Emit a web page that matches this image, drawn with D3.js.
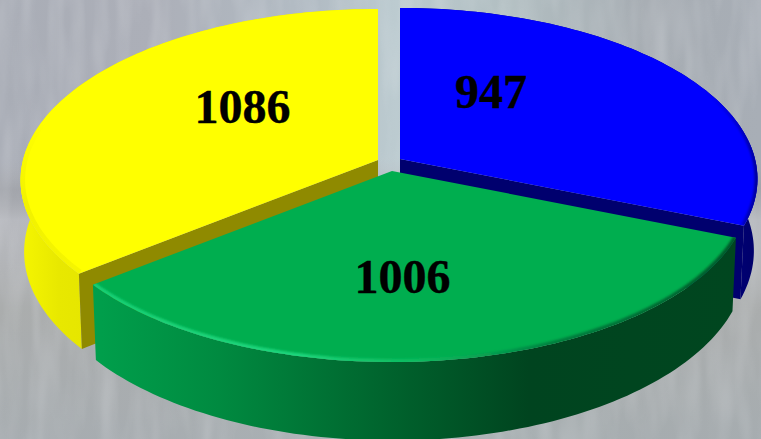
<!DOCTYPE html>
<html><head><meta charset="utf-8">
<script src="https://cdn.jsdelivr.net/npm/d3@7"></script>
<style>html,body{margin:0;padding:0;background:#aab}svg{display:block}</style></head>
<body><svg id="c" width="761" height="439"></svg>
<script>
// data
const names = ["blue","green","yellow"];
const values = [947,1006,1086];
const topColors = ["#0000ff","#00ae4f","#ffff00"];
const edgeColors = ["#00006e","#00441f","#8f8a00"];
// layout
const W=761,H=439;
const RX=355,RY=168.7,PERSP=0.117,DEPTH=71,BOTTOM_K=0.99;
const apex=[[400,159],[392,171],[378,160]];
const labelAt=[[491,107.5],[402.5,293],[242.5,122.5]];

const svg=d3.select("#c"),defs=svg.append("defs");
const color=d3.scaleOrdinal(names,topColors), edge=d3.scaleOrdinal(names,edgeColors);
const sx=d3.scaleLinear([-1,1],[-RX,RX]), sy=d3.scaleLinear([-1,1],[RY,-RY]);
const pie=d3.pie().sort(null)(values);
const line=d3.line();

function P(i,a,r,z){ // a clockwise from top, r radius fraction, z 0 top / 1 bottom
  const X=r*Math.sin(a),Y=r*Math.cos(a),w=1+PERSP*Y,k=z?BOTTOM_K:1;
  return [apex[i][0]+sx(X/w)*k, apex[i][1]+sy(Y/w)*k+(z?DEPTH/w:0)];
}
const arcPts=(i,a0,a1,z)=>d3.range(0,91).map(t=>P(i,a0+(a1-a0)*t/90,1,z));

// background
function grad(id,stops,attrs){
  const g=defs.append("linearGradient").attr("id",id).attr("gradientUnits","userSpaceOnUse");
  Object.entries(attrs).forEach(([k,v])=>g.attr(k,v));
  stops.forEach(s=>g.append("stop").attr("offset",s[0]).attr("stop-color",s[1]).attr("stop-opacity",s[2]===undefined?1:s[2]));
}
grad("bgH",[[0,"#a9adb6"],[.2,"#acafb8"],[.42,"#b2bcc4"],[.52,"#bccbd0"],[.66,"#b2bfc2"],[.85,"#a6acb2"],[1,"#a8aeb6"]],{x1:0,y1:0,x2:W,y2:0});
grad("bgV",[[0,"#aaa",0],[.36,"#aaa",0],[.43,"#8e8e8e",.3],[.5,"#c4c4c6",.5],[.7,"#abadab",.8],[1,"#a6acae",.75]],{x1:0,y1:0,x2:0,y2:H});
const f=defs.append("filter").attr("id","streak").attr("x",0).attr("y",0).attr("width","100%").attr("height","100%");
f.append("feTurbulence").attr("type","fractalNoise").attr("baseFrequency","0.06 0.012").attr("numOctaves",2).attr("seed",4);
f.append("feColorMatrix").attr("type","matrix").attr("values","0 0 0 0 0.85  0 0 0 0 0.87  0 0 0 0 0.9  0.9 0.9 0 0 -0.72");
svg.append("rect").attr("width",W).attr("height",H).attr("fill","url(#bgH)");
svg.append("rect").attr("width",W).attr("height",H).attr("fill","url(#bgV)");
svg.append("rect").attr("width",W).attr("height",H).attr("filter","url(#streak)").attr("opacity",.3);

// wall gradients
grad("wall0",[[0,"#00008a"],[1,"#000066"]],{x1:700,y1:0,x2:761,y2:0});
grad("wall1",[[0,"#00a04c"],[.2,"#008a40"],[.45,"#00652e"],[.68,"#00441f"],[1,"#00461f"]],{x1:90,y1:0,x2:735,y2:0});
grad("wall2",[[0,"#f6f600"],[.6,"#e8e800"],[1,"#e6e600"]],{x1:20,y1:0,x2:85,y2:0});
grad("rim0",[[0,"#0000ff",0],[.82,"#0000ff",0],[1,"#000090",.9]],{x1:400,y1:0,x2:757,y2:0});
grad("rim1",[[0,"#18cf74"],[.32,"#1ed67c"],[.5,"#14c268",.7],[.72,"#00733a",.8],[1,"#004f25",.9]],{x1:93,y1:0,x2:735,y2:0});
grad("rim2",[[0,"#f4f400",0],[.42,"#f4f400",0],[.7,"#f2f200",1],[1,"#f6f600",1]],{x1:0,y1:0,x2:0,y2:290});
defs.append("filter").attr("id","soft").append("feGaussianBlur").attr("stdDeviation",1);

// draw: blue, yellow, then green in front
[0,2,1].forEach(i=>{
  const d=pie[i],n=names[i],g=svg.append("g").attr("class","slice "+n);
  const top=arcPts(i,d.startAngle,d.endAngle,0), bot=arcPts(i,d.startAngle,d.endAngle,1);
  g.append("path").attr("d",line(top.concat(bot.slice().reverse()))+"Z").attr("fill",`url(#wall${i})`);
  const side=i===2?d.startAngle:d.endAngle;
  if(i!==1){
    g.append("path").attr("d",line([P(i,side,0,0),P(i,side,1,0),P(i,side,1,1),P(i,side,0,1)])+"Z").attr("fill",edge(n));
  }
  const fp=line([P(i,0,0,0)].concat(top))+"Z";
  g.append("path").attr("d",fp).attr("fill",color(n));
  const cid="clip"+i;
  defs.append("clipPath").attr("id",cid).append("path").attr("d",fp);
  const gr=g.append("g").attr("clip-path",`url(#${cid})`);
  gr.append("path").attr("d",line(top)).attr("fill","none").attr("stroke",`url(#rim${i})`)
    .attr("stroke-width",i===2?9:6).attr("filter",i===2?null:"url(#soft)");
});

// labels
svg.append("g").selectAll("text").data(values).join("text")
  .attr("x",(d,i)=>labelAt[i][0]).attr("y",(d,i)=>labelAt[i][1])
  .attr("text-anchor","middle")
  .attr("font-family","'Liberation Serif',serif").attr("font-weight","bold").attr("font-size",48)
  .attr("fill","#000").attr("stroke","#000").attr("stroke-width",.4).text(d=>d);
</script></body></html>
